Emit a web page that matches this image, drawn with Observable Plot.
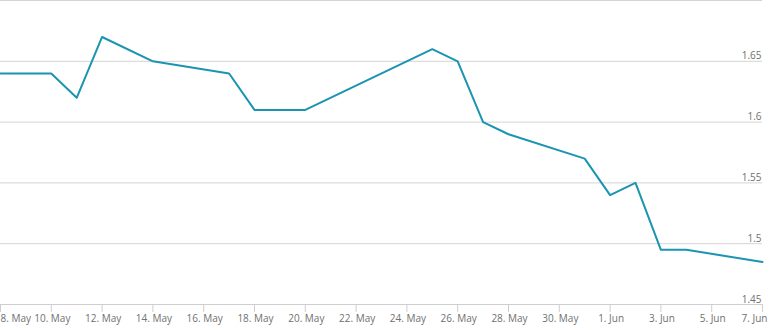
<!DOCTYPE html>
<html>
<head>
<meta charset="utf-8">
<script src="https://cdn.jsdelivr.net/npm/d3@7"></script>
<script src="https://cdn.jsdelivr.net/npm/@observablehq/plot@0.6"></script>
<style>
  html, body { margin: 0; padding: 0; background: #fff; }
  #chart svg { display: block; }
</style>
</head>
<body>
<div id="chart"></div>
<script>
// Data
const dates = ["2016-05-08","2016-05-10","2016-05-11","2016-05-12","2016-05-14","2016-05-17","2016-05-18","2016-05-20","2016-05-25","2016-05-26","2016-05-27","2016-05-28","2016-05-31","2016-06-01","2016-06-02","2016-06-03","2016-06-04","2016-06-07"];
const values = [1.64,1.64,1.62,1.67,1.65,1.64,1.61,1.61,1.66,1.65,1.60,1.59,1.57,1.54,1.55,1.495,1.495,1.485];

const xTickDates = ["2016-05-08","2016-05-10","2016-05-12","2016-05-14","2016-05-16","2016-05-18","2016-05-20","2016-05-22","2016-05-24","2016-05-26","2016-05-28","2016-05-30","2016-06-01","2016-06-03","2016-06-05","2016-06-07"];
const yTicks = [1.45, 1.5, 1.55, 1.6, 1.65];
const yGrid = [1.5, 1.55, 1.6, 1.65, 1.7];
const monthNames = ["Jan","Feb","Mar","Apr","May","Jun","Jul","Aug","Sep","Oct","Nov","Dec"];

const parse = s => new Date(s + "T00:00:00Z");
const data = dates.map((d, i) => ({date: parse(d), value: values[i]}));
const xTicks = xTickDates.map(parse);
const fmt = d => `${d.getUTCDate()}. ${monthNames[d.getUTCMonth()]}`;

const labelStyle = {fontSize: 10, fill: "#707070", fontFamily: "'Open Sans', sans-serif"};

const chart = Plot.plot({
  width: 770,
  height: 330,
  marginLeft: 0,
  marginRight: 8,
  marginTop: 0,
  marginBottom: 26,
  style: {background: "#fff", fontFamily: "'Open Sans', sans-serif"},
  x: {type: "utc", domain: [parse("2016-05-08"), parse("2016-06-07")]},
  y: {domain: [1.45, 1.7]},
  marks: [
    Plot.ruleY(yGrid, {stroke: "#d4d4d4", strokeWidth: 1}),
    Plot.ruleY([1.45], {stroke: "#cfcfcf", strokeWidth: 1}),
    Plot.axisX({ticks: xTicks, tickSize: 8, stroke: "#cfcfcf", tickFormat: () => "", label: null}),
    Plot.axisX({ticks: xTicks.slice(1, -1), tickSize: 0, tickPadding: 10, tickFormat: fmt, label: null, dx: 1, ...labelStyle}),
    Plot.axisX({ticks: xTicks.slice(0, 1), tickSize: 0, tickPadding: 10, tickFormat: fmt, label: null, textAnchor: "start", dx: 0, ...labelStyle}),
    Plot.axisX({ticks: xTicks.slice(-1), tickSize: 0, tickPadding: 10, tickFormat: fmt, label: null, textAnchor: "end", dx: 5, ...labelStyle}),
    Plot.axisY({ticks: yTicks, anchor: "right", tickSize: 0, tickPadding: 0, textAnchor: "end", lineAnchor: "bottom", dx: -1, dy: -2, tickFormat: d => String(d), label: null, ...labelStyle, fontSize: 10}),
    Plot.line(data, {x: "date", y: "value", stroke: "#1b94b1", strokeWidth: 2})
  ]
});
document.getElementById("chart").appendChild(chart);
</script>
</body>
</html>
